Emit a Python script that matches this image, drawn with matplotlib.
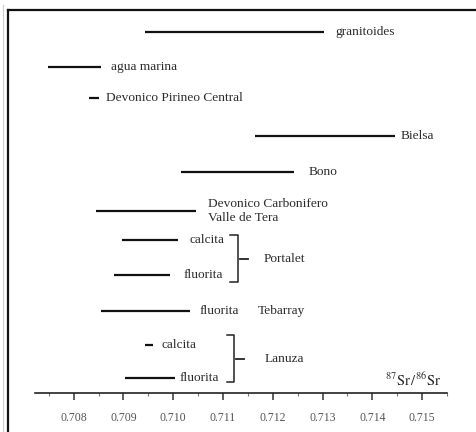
import matplotlib.pyplot as plt
from matplotlib.lines import Line2D
import numpy as np

plt.rcParams['font.family'] = ['Liberation Serif', 'DejaVu Serif']
plt.rcParams['mathtext.fontset'] = 'stix'

# 87Sr/86Sr ranges for each sample group
labels = ['granitoides', 'agua marina', 'Devonico Pirineo Central', 'Bielsa', 'Bono',
          'Devonico Carbonifero\nValle de Tera', 'calcita', 'fluorita', 'fluorita',
          'calcita', 'fluorita']
sr_min = [0.70944, 0.70748, 0.70831, 0.71164, 0.71015, 0.70845,
          0.70897, 0.70881, 0.70855, 0.70944, 0.70904]
sr_max = [0.71302, 0.70855, 0.70851, 0.71445, 0.71243, 0.71045,
          0.71009, 0.70994, 0.71033, 0.70960, 0.71003]
xticks = [0.708, 0.709, 0.710, 0.711, 0.712, 0.713, 0.714, 0.715]

# layout: row heights (px from top) and gap between bar end and its label
row_y = [32, 67, 98, 136, 172, 211, 240, 275, 311, 345, 378]
label_gap = [12, 10, 7, 6, 14, 12, 12, 13, 10, 8, 5]

W, H = 476, 432
fig = plt.figure(figsize=(W / 100, H / 100), dpi=100)
fig.patch.set_facecolor('white')
ax = fig.add_axes([35 / W, 39 / H, 412 / W, 383 / H])
ax.set_xlim(0.707222, 0.715376)
ax.set_ylim(393, 10)
ax.patch.set_alpha(0)

txt = '#2b2b2b'
fs = 9.6
for lab, lo, hi, y, g in zip(labels, sr_min, sr_max, row_y, label_gap):
    ax.plot([lo, hi], [y, y], color='#111111', lw=1.6, solid_capstyle='butt')
    ax.annotate(lab, (hi, y), xytext=(g * 0.72, 0), textcoords='offset points',
                ha='left', va='center', fontsize=fs, color=txt, linespacing=1.25)


def bracket(x, y0, y1, name, name_dx):
    ym = (y0 + y1) / 2
    ax.plot([x - 0.00015, x, x, x - 0.00015], [y0, y0, y1, y1], color='#222222', lw=1.1)
    ax.plot([x + 0.00005, x + 0.0002], [ym, ym], color='#222222', lw=1.3)
    ax.annotate(name, (x, ym), xytext=(name_dx * 0.72, 0), textcoords='offset points',
                ha='left', va='center', fontsize=fs, color=txt)


bracket(0.71130, row_y[6] - 5, row_y[7] + 7, 'Portalet', 26)
bracket(0.71122, row_y[9] - 10, row_y[10] + 4, 'Lanuza', 31)
ax.annotate('Tebarray', (sr_max[8], row_y[8]), xytext=(68 * 0.72, 0),
            textcoords='offset points', ha='left', va='center', fontsize=fs, color=txt)

ax.text(0.71425, 380, r'$^{87}\mathrm{Sr}\,/^{86}\mathrm{Sr}$', fontsize=10.5, color=txt,
        ha='left', va='center')

for s in ['left', 'right', 'top']:
    ax.spines[s].set_visible(False)
ax.spines['bottom'].set_color('#222222')
ax.spines['bottom'].set_linewidth(1.2)
ax.set_yticks([])
ax.set_xticks(xticks)
ax.set_xticklabels([f'{t:.3f}' for t in xticks], fontsize=8.5, color='#555555')
ax.set_xticks(np.arange(0.7075, 0.7155, 0.001), minor=True)
ax.tick_params(axis='x', which='major', direction='out', length=5, width=1.1,
               pad=9, color='#333333')
ax.tick_params(axis='x', which='minor', direction='out', length=2.5, width=0.8,
               color='#777777')

# outer frame (top and left edges)
fig.add_artist(Line2D([8 / W, 8 / W], [0, 1 - 10 / H], transform=fig.transFigure,
                      color='#111111', lw=1.6))
fig.add_artist(Line2D([8 / W, 1], [1 - 10 / H, 1 - 10 / H], transform=fig.transFigure,
                      color='#111111', lw=1.6))
fig.add_artist(Line2D([3 / W, 3 / W], [0, 1 - 5 / H], transform=fig.transFigure,
                      color='#cccccc', lw=0.8))

fig.savefig('out.png', dpi=100, facecolor='white')
